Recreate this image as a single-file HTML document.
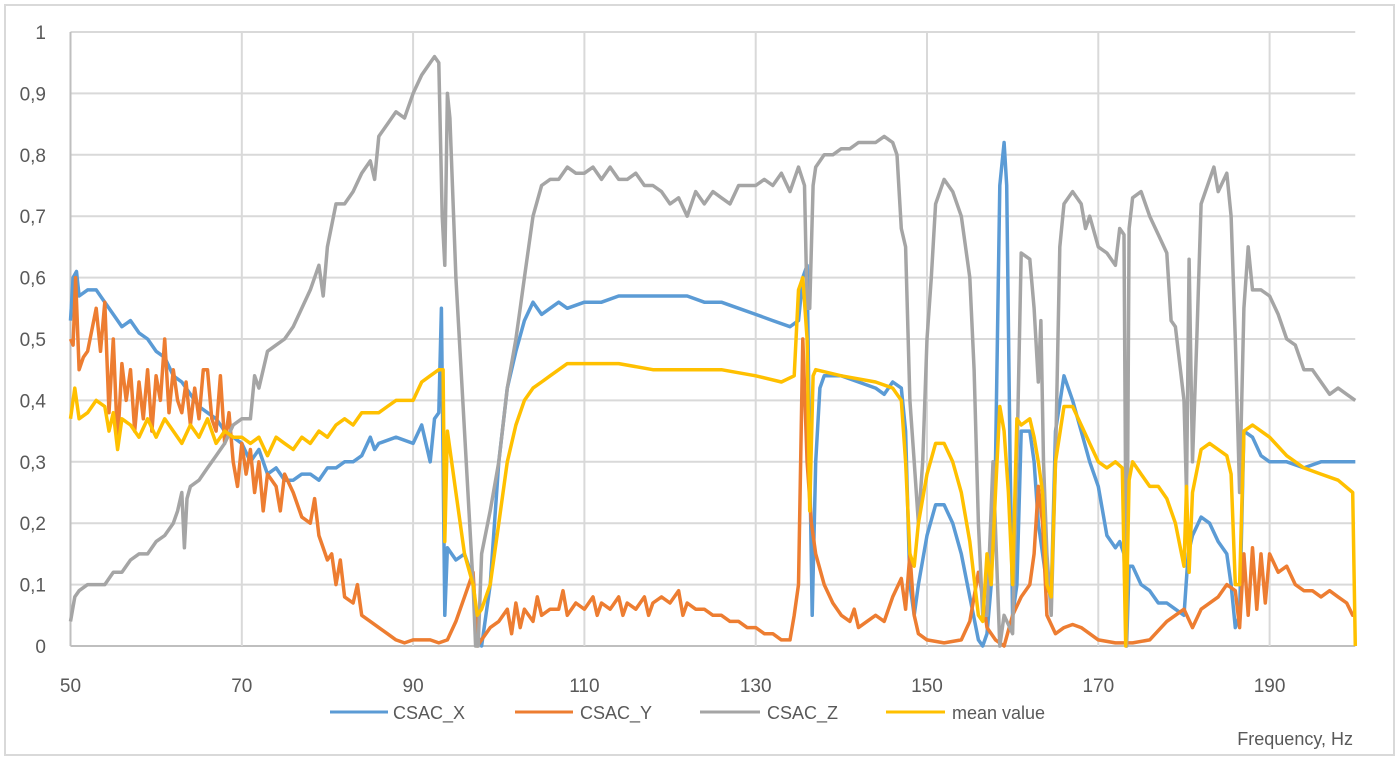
<!DOCTYPE html>
<html><head><meta charset="utf-8"><style>
html,body{margin:0;padding:0;background:#fff;}
svg{display:block;font-family:"Liberation Sans",sans-serif;}
</style></head><body>
<svg id="chart" width="1400" height="761" viewBox="0 0 1400 761">
<rect x="5" y="5" width="1389" height="750" fill="#fff" stroke="#d9d9d9" stroke-width="2"/>
<g id="grid"></g>
<g id="ylabels"></g>
<g id="xlabels"></g>
<g id="series"></g>
<text x="1353" y="745" text-anchor="end" font-size="18" fill="#595959">Frequency, Hz</text>
<g>
 <g><line x1="330" y1="712" x2="388" y2="712" stroke="#5B9BD5" stroke-width="3"/><text x="393" y="719" font-size="18" fill="#595959">CSAC_X</text></g>
 <g><line x1="515" y1="712" x2="573" y2="712" stroke="#ED7D31" stroke-width="3"/><text x="580" y="719" font-size="18" fill="#595959">CSAC_Y</text></g>
 <g><line x1="700" y1="712" x2="760" y2="712" stroke="#A5A5A5" stroke-width="3"/><text x="767" y="719" font-size="18" fill="#595959">CSAC_Z</text></g>
 <g><line x1="886" y1="712" x2="945" y2="712" stroke="#FFC000" stroke-width="3"/><text x="952" y="719" font-size="18" fill="#595959">mean value</text></g>
</g>
</svg>
<script>
const xTicks=[50,70,90,110,130,150,170,190];
const yTicks=[0,0.1,0.2,0.3,0.4,0.5,0.6,0.7,0.8,0.9,1];
const yTickLabels=["0","0,1","0,2","0,3","0,4","0,5","0,6","0,7","0,8","0,9","1"];

const zFreq=[50,50.5,51,52,53,54,55,56,57,58,59,60,61,62,62.5,63,63.3,63.6,64,65,66,67,68,69,70,71,71.5,72,73,74,75,76,77,78,79,79.5,80,81,82,83,84,85,85.5,86,87,88,89,90,91,92,92.5,93,93.4,93.7,94,94.3,95,96,97,97.3,97.6,98,99,100,101,102,102.5,103,104,105,106,107,108,109,110,111,112,113,114,115,116,117,118,119,120,121,122,123,124,125,126,127,128,129,130,131,132,133,134,135,135.7,136,136.3,136.7,137,138,139,140,141,142,143,144,145,146,146.5,147,147.5,148,148.5,149,149.5,150,150.5,151,152,153,154,155,155.5,156,156.5,157,157.7,158.5,159,160,160.5,161,162,162.5,163,163.3,163.6,164,164.5,165,165.5,166,167,168,168.5,169,170,171,172,172.5,173,173.3,173.6,174,175,176,177,178,178.5,179,180,180.3,180.6,181,181.5,182,183,183.5,184,185,185.5,186,186.5,187,187.5,188,189,190,191,192,193,194,195,196,197,198,199,200];
const zVals=[0.04,0.08,0.09,0.1,0.1,0.1,0.12,0.12,0.14,0.15,0.15,0.17,0.18,0.2,0.22,0.25,0.16,0.24,0.26,0.27,0.29,0.31,0.33,0.36,0.37,0.37,0.44,0.42,0.48,0.49,0.5,0.52,0.55,0.58,0.62,0.57,0.65,0.72,0.72,0.74,0.77,0.79,0.76,0.83,0.85,0.87,0.86,0.9,0.93,0.95,0.96,0.95,0.7,0.62,0.9,0.86,0.6,0.35,0.1,0.0,0.0,0.15,0.22,0.3,0.42,0.5,0.55,0.6,0.7,0.75,0.76,0.76,0.78,0.77,0.77,0.78,0.76,0.78,0.76,0.76,0.77,0.75,0.75,0.74,0.72,0.73,0.70,0.74,0.72,0.74,0.73,0.72,0.75,0.75,0.75,0.76,0.75,0.77,0.74,0.78,0.75,0.55,0.55,0.75,0.78,0.8,0.8,0.81,0.81,0.82,0.82,0.82,0.83,0.82,0.8,0.68,0.65,0.4,0.3,0.2,0.3,0.5,0.6,0.72,0.76,0.74,0.7,0.6,0.45,0.2,0.05,0.05,0.3,0.0,0.05,0.02,0.3,0.64,0.63,0.55,0.43,0.53,0.3,0.15,0.05,0.3,0.65,0.72,0.74,0.72,0.68,0.7,0.65,0.64,0.62,0.68,0.67,0.0,0.68,0.73,0.74,0.7,0.67,0.64,0.53,0.52,0.4,0.25,0.63,0.3,0.5,0.72,0.76,0.78,0.74,0.77,0.7,0.5,0.25,0.55,0.65,0.58,0.58,0.57,0.54,0.5,0.49,0.45,0.45,0.43,0.41,0.42,0.41,0.40];

const xFreq=[50,50.3,50.7,51,52,53,54,55,56,57,58,59,60,61,62,63,64,65,66,67,68,69,70,71,72,73,74,75,76,77,78,79,80,81,82,83,84,85,85.5,86,88,90,91,92,92.5,93,93.3,93.7,94,95,96,96.5,97,97.5,98,99,100,101,102,103,104,105,106,107,108,110,112,114,116,118,120,122,124,126,128,130,132,134,135,135.5,136,136.3,136.6,137,137.5,138,140,142,144,145,146,147,147.5,148,148.5,149,150,151,152,153,154,155,156,156.5,157,157.5,158,158.5,159,159.3,159.7,160,160.5,161,162,162.5,163,163.5,164,164.5,165,166,167,168,169,170,171,172,172.5,173,173.3,173.6,174,175,176,177,178,179,180,180.5,181,182,183,184,185,185.5,186,186.5,187,188,189,190,192,194,196,198,200];
const xVals=[0.53,0.6,0.61,0.57,0.58,0.58,0.56,0.54,0.52,0.53,0.51,0.5,0.48,0.47,0.44,0.43,0.41,0.39,0.38,0.37,0.35,0.34,0.33,0.3,0.32,0.28,0.29,0.27,0.27,0.28,0.28,0.27,0.29,0.29,0.3,0.3,0.31,0.34,0.32,0.33,0.34,0.33,0.36,0.3,0.37,0.38,0.55,0.05,0.16,0.14,0.15,0.13,0.1,0.02,0.0,0.1,0.3,0.42,0.48,0.53,0.56,0.54,0.55,0.56,0.55,0.56,0.56,0.57,0.57,0.57,0.57,0.57,0.56,0.56,0.55,0.54,0.53,0.52,0.53,0.6,0.62,0.3,0.05,0.3,0.42,0.44,0.44,0.43,0.42,0.41,0.43,0.42,0.35,0.1,0.05,0.1,0.18,0.23,0.23,0.2,0.15,0.08,0.01,0.0,0.02,0.1,0.3,0.75,0.82,0.75,0.3,0.05,0.1,0.35,0.35,0.3,0.2,0.15,0.1,0.08,0.35,0.44,0.4,0.35,0.3,0.26,0.18,0.16,0.17,0.15,0.0,0.13,0.13,0.1,0.09,0.07,0.07,0.06,0.05,0.15,0.18,0.21,0.2,0.17,0.15,0.1,0.03,0.05,0.35,0.34,0.31,0.3,0.3,0.29,0.3,0.3,0.3];

const yFreq=[50,50.3,50.6,51,51.5,52,53,53.5,54,54.5,55,55.5,56,56.5,57,57.5,58,58.5,59,59.5,60,60.5,61,61.5,62,62.5,63,63.5,64,64.5,65,65.5,66,66.5,67,67.5,68,68.5,69,69.5,70,70.5,71,71.5,72,72.5,73,74,74.5,75,76,77,78,78.5,79,80,80.5,81,81.5,82,83,83.5,84,85,86,87,88,89,90,92,93,94,95,96,97,97.5,98,99,100,101,101.5,102,102.5,103,104,104.5,105,106,107,107.5,108,109,110,111,111.5,112,113,114,114.5,115,116,117,117.5,118,119,120,121,121.5,122,123,124,125,126,127,128,129,130,131,132,133,134,134.5,135,135.5,136,136.5,137,138,139,140,141,141.5,142,143,144,145,146,147,147.5,148,148.5,149,150,152,154,155,156,156.5,157,158,159,160,161,162,162.5,163,163.5,164,165,166,167,168,169,170,172,174,176,178,179,180,181,182,184,185,186,186.5,187,187.5,188,188.5,189,189.5,190,191,192,193,194,195,196,197,198,199,199.7,200];
const yVals=[0.5,0.49,0.6,0.45,0.47,0.48,0.55,0.48,0.56,0.38,0.5,0.33,0.46,0.4,0.45,0.35,0.43,0.37,0.45,0.35,0.44,0.4,0.5,0.38,0.45,0.4,0.38,0.43,0.36,0.42,0.37,0.45,0.45,0.37,0.35,0.44,0.33,0.38,0.3,0.26,0.33,0.28,0.32,0.25,0.3,0.22,0.28,0.26,0.22,0.28,0.25,0.21,0.2,0.24,0.18,0.14,0.15,0.1,0.14,0.08,0.07,0.1,0.05,0.04,0.03,0.02,0.01,0.005,0.01,0.01,0.005,0.01,0.04,0.08,0.12,0.0,0.01,0.03,0.04,0.06,0.02,0.07,0.03,0.06,0.04,0.08,0.05,0.06,0.06,0.09,0.05,0.07,0.06,0.08,0.05,0.07,0.06,0.08,0.05,0.07,0.06,0.08,0.05,0.07,0.08,0.07,0.09,0.05,0.07,0.06,0.06,0.05,0.05,0.04,0.04,0.03,0.03,0.02,0.02,0.01,0.01,0.05,0.1,0.5,0.3,0.2,0.15,0.1,0.07,0.05,0.04,0.06,0.03,0.04,0.05,0.04,0.08,0.11,0.06,0.15,0.05,0.02,0.01,0.005,0.01,0.04,0.12,0.08,0.03,0.01,0.0,0.05,0.08,0.1,0.15,0.26,0.2,0.05,0.02,0.03,0.035,0.03,0.02,0.01,0.005,0.005,0.01,0.04,0.05,0.06,0.03,0.06,0.08,0.1,0.09,0.03,0.15,0.05,0.16,0.06,0.15,0.07,0.15,0.12,0.13,0.1,0.09,0.09,0.08,0.09,0.08,0.07,0.05,0.05];

const mFreq=[50,50.5,51,52,53,54,54.5,55,55.5,56,57,58,59,60,61,62,63,64,65,66,67,68,69,70,71,72,73,74,75,76,77,78,79,80,81,82,83,84,85,86,87,88,89,90,91,92,93,93.5,93.7,94,95,96,97,97.5,98,99,100,101,102,103,104,105,106,107,108,110,114,118,122,126,130,133,134.5,135,135.5,136,136.3,136.7,137,140,144,146,147,147.5,148,148.5,149,150,151,152,153,154,155,156,156.5,157,157.5,158,158.5,159,159.5,160,160.5,161,162,162.5,163,163.5,164,164.5,165,166,167,168,169,170,171,172,172.8,173.2,173.6,174,175,176,177,178,179,180,180.3,180.6,181,182,183,184,185,185.5,186,186.5,187,188,189,190,192,194,196,198,199.7,200];
const mVals=[0.37,0.42,0.37,0.38,0.4,0.39,0.35,0.38,0.32,0.37,0.36,0.34,0.37,0.34,0.37,0.35,0.33,0.36,0.34,0.37,0.33,0.35,0.34,0.34,0.33,0.34,0.31,0.34,0.33,0.32,0.34,0.33,0.35,0.34,0.36,0.37,0.36,0.38,0.38,0.38,0.39,0.4,0.4,0.4,0.43,0.44,0.45,0.45,0.17,0.35,0.25,0.15,0.1,0.05,0.06,0.1,0.2,0.3,0.36,0.4,0.42,0.43,0.44,0.45,0.46,0.46,0.46,0.45,0.45,0.45,0.44,0.43,0.44,0.58,0.6,0.5,0.22,0.44,0.45,0.44,0.43,0.42,0.4,0.3,0.15,0.13,0.2,0.28,0.33,0.33,0.3,0.25,0.17,0.05,0.04,0.15,0.1,0.25,0.39,0.35,0.25,0.1,0.37,0.36,0.37,0.34,0.3,0.25,0.1,0.08,0.3,0.39,0.39,0.36,0.33,0.3,0.29,0.3,0.29,0.0,0.27,0.3,0.28,0.26,0.26,0.24,0.2,0.13,0.26,0.12,0.25,0.32,0.33,0.32,0.31,0.28,0.1,0.1,0.35,0.36,0.35,0.34,0.31,0.29,0.28,0.27,0.25,0.0];

const X0=70.5, PXHZ=8.565, Y0=646, PX1=614;
function sx(f){return X0+(f-50)*PXHZ;}
function sy(v){return Y0-v*PX1;}
const NS="http://www.w3.org/2000/svg";
const grid=document.getElementById('grid');
yTicks.forEach(function(t){
  const l=document.createElementNS(NS,'line');
  l.setAttribute('x1',sx(50));l.setAttribute('x2',sx(200));
  l.setAttribute('y1',sy(t));l.setAttribute('y2',sy(t));
  l.setAttribute('stroke',t===0?'#bfbfbf':'#d9d9d9');l.setAttribute('stroke-width','2');
  
  
  grid.appendChild(l);
});
xTicks.forEach(function(f){
  const l=document.createElementNS(NS,'line');
  l.setAttribute('x1',sx(f));l.setAttribute('x2',sx(f));
  l.setAttribute('y1',sy(1));l.setAttribute('y2',sy(0));
  l.setAttribute('stroke',f===50?'#bfbfbf':'#d9d9d9');l.setAttribute('stroke-width','2');
  
  
  grid.appendChild(l);
});
const yl=document.getElementById('ylabels');
yTicks.forEach(function(t,i){
  const tx=document.createElementNS(NS,'text');
  tx.setAttribute('x',46);tx.setAttribute('y',sy(t)+7);
  tx.setAttribute('text-anchor','end');tx.setAttribute('font-size','19');tx.setAttribute('fill','#595959');
  tx.textContent=yTickLabels[i];
  
  
  yl.appendChild(tx);
});
const xl=document.getElementById('xlabels');
xTicks.forEach(function(t){
  const tx=document.createElementNS(NS,'text');
  tx.setAttribute('x',sx(t));tx.setAttribute('y',692);
  tx.setAttribute('text-anchor','middle');tx.setAttribute('font-size','19');tx.setAttribute('fill','#595959');
  tx.textContent=String(t);
  
  
  xl.appendChild(tx);
});
const ser=document.getElementById('series');
function drawLine(fr,vals,color,name){
  const p=document.createElementNS(NS,'polyline');
  p.setAttribute('points',fr.map(function(f,i){return sx(f).toFixed(1)+','+sy(vals[i]).toFixed(1);}).join(' '));
  p.setAttribute('fill','none');p.setAttribute('stroke',color);p.setAttribute('stroke-width','3.5');
  p.setAttribute('stroke-linejoin','round');
  
  
  ser.appendChild(p);
}
drawLine(xFreq,xVals,'#5B9BD5','csac-x-line');
drawLine(yFreq,yVals,'#ED7D31','csac-y-line');
drawLine(zFreq,zVals,'#A5A5A5','csac-z-line');
drawLine(mFreq,mVals,'#FFC000','mean-value-line');
</script>
</body></html>
